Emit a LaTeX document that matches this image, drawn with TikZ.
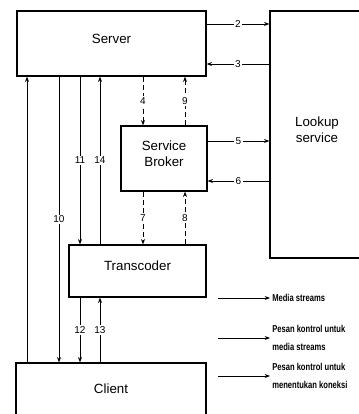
\documentclass[tikz,border=0pt]{standalone}
\usepackage{fontspec}
\setmainfont{Liberation Sans}
\newfontfamily\sempit[FakeStretch=0.76]{Liberation Sans}
\usetikzlibrary{fit,arrows.meta}

\tikzset{
  kotak/.style={draw, line width=0.9pt, inner sep=0pt, align=center, font=\fontsize{10}{12}\selectfont},
  panah/.style={->, line width=0.6pt},
  kontrol/.style={dash pattern=on 4pt off 2pt},
  aliran/.style={},
  nomor/.style={fill=white, inner sep=1pt, font=\fontsize{7.5}{8}\selectfont},
  ket/.style={anchor=west, align=left, inner sep=1.5pt, font=\sempit\bfseries\fontsize{7.5}{14}\selectfont}
}

\begin{document}
\begin{tikzpicture}[x=0.75pt, y=-0.75pt, >={Stealth[length=4pt,width=3pt]}]
        \useasboundingbox (0,0) rectangle (358,414);

        % Kotak-kotak utama
        \node[kotak, fit={(17,11) (206,76)}] (server) {Server};
        \node[kotak, fit={(270,11) (364,258)}] (lookup) {Lookup\\service};
        \node[kotak, fit={(121,126) (207,191)}] (broker) {Service\\Broker};
        \node[kotak, fit={(69,245) (206,297)}] (transcoder) {Transcoder};
        \node[kotak, fit={(16,363) (206,424)}] (client) {Client};

        % Pesan mendatar ke/dari lookup service
        \draw[panah] (server.east |- 0,24) -- (lookup.west |- 0,24) node[nomor, midway] {2};
        \draw[panah] (lookup.west |- 0,64) -- (server.east |- 0,64) node[nomor, midway] {3};
        \draw[panah] (broker.east |- 0,141) -- (lookup.west |- 0,141) node[nomor, midway] {5};
        \draw[panah] (lookup.west |- 0,181) -- (broker.east |- 0,181) node[nomor, midway] {6};

        % Pesan tegak ke bawah
        \foreach \x/\a/\b/\t/\s in {143/server/broker/4/kontrol, 143/broker/transcoder/7/kontrol,
                                    59/server/client/10/aliran, 80/server/transcoder/11/aliran,
                                    80/transcoder/client/12/aliran} {
            \draw[panah, \s] (\a.south -| \x,0) -- (\b.north -| \x,0) node[nomor, midway] {\t};
        }
        % Pesan tegak ke atas
        \foreach \x/\a/\b/\t/\s in {185/broker/server/9/kontrol, 185/transcoder/broker/8/kontrol,
                                    100/transcoder/server/14/aliran, 100/client/transcoder/13/aliran} {
            \draw[panah, \s] (\a.north -| \x,0) -- (\b.south -| \x,0) node[nomor, midway] {\t};
        }
        \draw[panah] (client.north -| 27,0) -- (server.south -| 27,0);

        % Keterangan
        \node[ket] (ket1) at (270,298) {Media streams};
        \node[ket] (ket2) at (270,338) {Pesan kontrol untuk\\media streams};
        \node[ket] (ket3) at (270,376) {Pesan kontrol untuk\\menentukan koneksi};
        \coordinate (k1) at (218,298);
        \coordinate (k2) at (218,338);
        \coordinate (k3) at (218,376);
        \draw[panah] (k1) -- (ket1);
        \draw[panah] (k2) -- (ket2);
        \draw[panah] (k3) -- (ket3);
    \end{tikzpicture}
\end{document}
